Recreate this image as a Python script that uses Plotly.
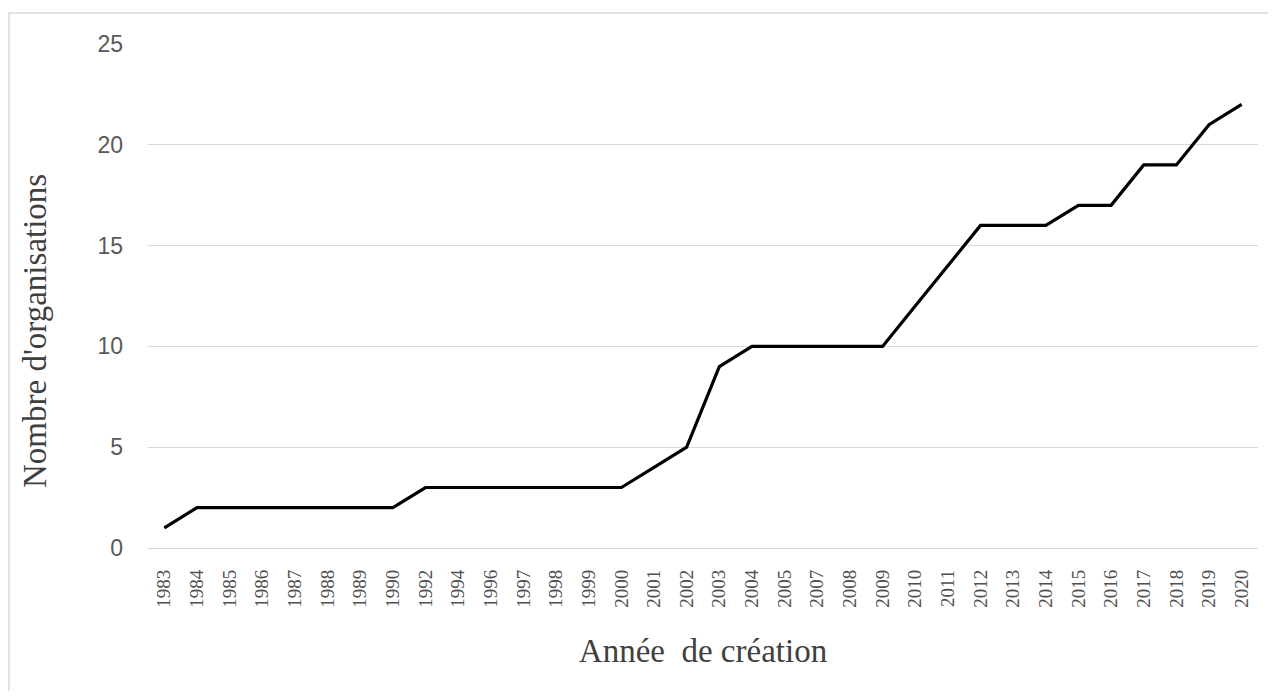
import plotly.graph_objects as go

years = ["1983", "1984", "1985", "1986", "1987", "1988", "1989", "1990", "1992", "1994",
         "1996", "1997", "1998", "1999", "2000", "2001", "2002", "2003", "2004", "2005",
         "2007", "2008", "2009", "2010", "2011", "2012", "2013", "2014", "2015", "2016",
         "2017", "2018", "2019", "2020"]
organisations = [1, 2, 2, 2, 2, 2, 2, 2, 3, 3,
                 3, 3, 3, 3, 3, 4, 5, 9, 10, 10,
                 10, 10, 10, 12, 14, 16, 16, 16, 17, 17,
                 19, 19, 21, 22]
y_ticks = [0, 5, 10, 15, 20, 25]

fig = go.Figure()
fig.add_trace(go.Scatter(
    x=years, y=organisations, mode="lines",
    line=dict(color="#000000", width=3.2),
    showlegend=False, hoverinfo="x+y",
))

# page body has an 8px margin, so the figure starts at (8, 8)
W, H = 1260, 683
L, R, T, B = 140, 10, 36, 143
pw, ph = W - L - R, H - T - B

fig.update_layout(
    width=W, height=H,
    margin=dict(l=L, r=R, t=T, b=B, autoexpand=False),
    paper_bgcolor="white", plot_bgcolor="white",
    xaxis=dict(
        type="category", range=[-0.5, len(years) - 0.5],
        tickangle=-90, showgrid=False, showline=False, zeroline=False,
        ticks="", ticklabelstandoff=17,
        tickfont=dict(family="Liberation Serif", size=19, color="#505050"),
        title=dict(text="Année\u00a0 de création",
                   font=dict(family="Liberation Serif", size=33, color="#404040"),
                   standoff=32),
        automargin=False,
    ),
    yaxis=dict(
        range=[0, 25], tickvals=y_ticks, showgrid=True, gridcolor="#d9d9d9", gridwidth=1,
        zeroline=True, zerolinecolor="#d9d9d9", zerolinewidth=1, showline=False,
        ticks="", ticklabelstandoff=24,
        tickfont=dict(family="Liberation Sans", size=23, color="#595959"),
        automargin=False,
    ),
)

# y-axis title placed as in the source (slightly below the plot's centre)
fig.add_annotation(
    text="Nombre d'organisations", textangle=-90,
    xref="paper", yref="paper",
    x=(35 - 8 - L) / pw, y=1 - (331 - 8 - T) / ph,
    xanchor="center", yanchor="middle", showarrow=False,
    font=dict(family="Liberation Serif", size=33, color="#404040"),
)

# light frame around the chart area (as in the source image)
fig.add_shape(type="rect", xref="paper", yref="paper",
              x0=(1 - L) / pw, x1=(W + 20 - L) / pw,
              y0=-(H + 20 - T - ph) / ph, y1=1 + (T - 5) / ph,
              line=dict(color="#d9d9d9", width=1.5), fillcolor="rgba(0,0,0,0)", layer="below")

fig.write_html("out.html")
